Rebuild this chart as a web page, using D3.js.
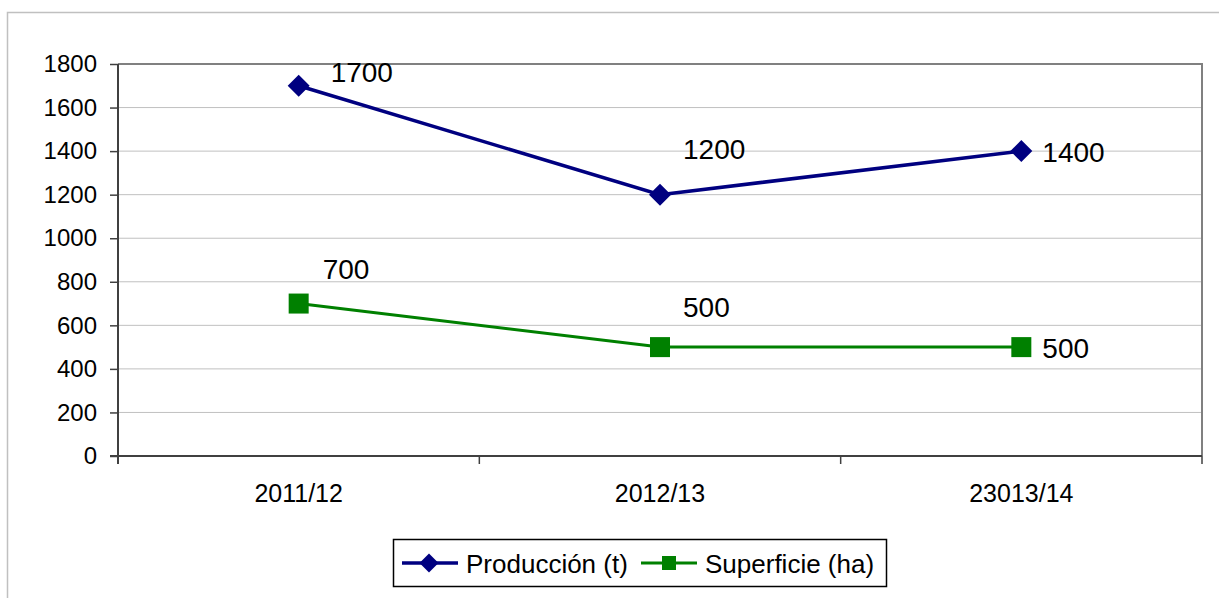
<!DOCTYPE html>
<html>
<head>
<meta charset="utf-8">
<script src="https://cdn.jsdelivr.net/npm/d3@7"></script>
<style>
  body { margin: 0; background: #fff; }
  svg { display: block; font-family: "Liberation Sans", Arial, sans-serif; }
</style>
</head>
<body>
<div class="graph"></div>
<script>
// data
var campaigns = ["2011/12", "2012/13", "23013/14"];
var produccion = [1700, 1200, 1400];
var superficie = [700, 500, 500];
var yTicks = [0, 200, 400, 600, 800, 1000, 1200, 1400, 1600, 1800];
var seriesNames = ["Producción (t)", "Superficie (ha)"];

// where excel put each data label, relative to its point (dx to text start, dy to baseline)
var prodLabelOffsets = [[32, -4], [23, -36], [21, 11]];
var supLabelOffsets = [[24, -25], [23, -30], [21, 11]];

var width = 1219, height = 598;
var plot = {left: 118, right: 1202, top: 64, bottom: 456};

var svg = d3.select("div.graph").append("svg")
    .attr("width", width)
    .attr("height", height);

// outer chart frame (runs off the right and bottom edge)
svg.append("rect")
    .attr("x", 7.5).attr("y", 12.5)
    .attr("width", 1240).attr("height", 620)
    .attr("fill", "#fff")
    .attr("stroke", "#c0c0c0")
    .attr("stroke-width", 1.5);

var x = d3.scaleBand().domain(campaigns).range([plot.left, plot.right]);
var y = d3.scaleLinear().domain([0, 1800]).range([plot.bottom, plot.top]);
var cx = function(d) { return x(d) + x.bandwidth() / 2; };

// gridlines
svg.append("g")
  .selectAll("line")
  .data(yTicks.filter(function(t) { return t > 0 && t < 1800; }))
  .enter().append("line")
    .attr("x1", plot.left).attr("x2", plot.right)
    .attr("y1", function(d) { return y(d); })
    .attr("y2", function(d) { return y(d); })
    .attr("stroke", "#c0c0c0")
    .attr("stroke-width", 1);

// plot border top + right
svg.append("path")
    .attr("d", "M" + plot.left + "," + y(1800) + "H" + plot.right + "V" + plot.bottom)
    .attr("fill", "none")
    .attr("stroke", "#808080")
    .attr("stroke-width", 2);

// y axis
var yAxis = svg.append("g")
    .attr("transform", "translate(" + plot.left + ",0)")
    .call(d3.axisLeft(y).tickValues(yTicks).tickFormat(d3.format("d")).tickSize(8).tickPadding(13));
yAxis.select(".domain").attr("stroke", "#404040").attr("stroke-width", 2)
    .attr("d", "M0," + (plot.bottom + 8) + "V" + plot.top);
yAxis.selectAll(".tick line").attr("stroke", "#404040").attr("stroke-width", 1.5);
yAxis.selectAll(".tick text")
    .attr("font-size", 24)
    .attr("font-family", "Liberation Sans, Arial, sans-serif")
    .attr("fill", "#000");

// x axis, ticks sit between the categories
var xAxis = svg.append("g")
    .attr("transform", "translate(0," + plot.bottom + ")");
xAxis.append("line")
    .attr("x1", plot.left - 8).attr("x2", plot.right)
    .attr("stroke", "#404040").attr("stroke-width", 2);
var bounds = campaigns.map(function(c) { return x(c); }).concat([x.range()[1]]);
xAxis.selectAll(".xtick")
  .data(bounds)
  .enter().append("line")
    .attr("class", "xtick")
    .attr("x1", function(d) { return d; }).attr("x2", function(d) { return d; })
    .attr("y1", 0).attr("y2", 8)
    .attr("stroke", "#404040").attr("stroke-width", 1.5);
xAxis.selectAll(".xlabel")
  .data(campaigns)
  .enter().append("text")
    .attr("class", "xlabel")
    .attr("x", cx)
    .attr("y", 46)
    .attr("text-anchor", "middle")
    .attr("font-size", 25)
    .text(function(d) { return d; });

// series
var line = d3.line()
    .x(function(d, i) { return cx(campaigns[i]); })
    .y(function(d) { return y(d); });

svg.append("path")
    .datum(superficie)
    .attr("d", line)
    .attr("fill", "none")
    .attr("stroke", "#008000")
    .attr("stroke-width", 3);

svg.append("path")
    .datum(produccion)
    .attr("d", line)
    .attr("fill", "none")
    .attr("stroke", "#000080")
    .attr("stroke-width", 3.5);

svg.selectAll(".sq")
  .data(superficie)
  .enter().append("rect")
    .attr("class", "sq")
    .attr("x", function(d, i) { return cx(campaigns[i]) - 10; })
    .attr("y", function(d) { return y(d) - 10; })
    .attr("width", 20).attr("height", 20)
    .attr("fill", "#008000");

svg.selectAll(".dm")
  .data(produccion)
  .enter().append("path")
    .attr("class", "dm")
    .attr("d", "M0,-11L11,0L0,11L-11,0Z")
    .attr("transform", function(d, i) { return "translate(" + cx(campaigns[i]) + "," + y(d) + ")"; })
    .attr("fill", "#000080");

// data labels
svg.selectAll(".plabel")
  .data(produccion)
  .enter().append("text")
    .attr("class", "plabel")
    .attr("x", function(d, i) { return cx(campaigns[i]) + prodLabelOffsets[i][0]; })
    .attr("y", function(d, i) { return y(d) + prodLabelOffsets[i][1]; })
    .attr("font-size", 28)
    .text(function(d) { return d; });

svg.selectAll(".slabel")
  .data(superficie)
  .enter().append("text")
    .attr("class", "slabel")
    .attr("x", function(d, i) { return cx(campaigns[i]) + supLabelOffsets[i][0]; })
    .attr("y", function(d, i) { return y(d) + supLabelOffsets[i][1]; })
    .attr("font-size", 28)
    .text(function(d) { return d; });

// legend
var legend = svg.append("g");
legend.append("rect")
    .attr("x", 393.5).attr("y", 539.5)
    .attr("width", 493).attr("height", 47)
    .attr("fill", "#fff")
    .attr("stroke", "#000")
    .attr("stroke-width", 1.5);

legend.append("line")
    .attr("x1", 402).attr("x2", 458).attr("y1", 563).attr("y2", 563)
    .attr("stroke", "#000080").attr("stroke-width", 3.5);
legend.append("path")
    .attr("d", "M0,-9.5L9.5,0L0,9.5L-9.5,0Z")
    .attr("transform", "translate(429,563)")
    .attr("fill", "#000080");
legend.append("text")
    .attr("x", 466).attr("y", 573)
    .attr("font-size", 26)
    .text(seriesNames[0]);

legend.append("line")
    .attr("x1", 641).attr("x2", 697).attr("y1", 563).attr("y2", 563)
    .attr("stroke", "#008000").attr("stroke-width", 3);
legend.append("rect")
    .attr("x", 662).attr("y", 556)
    .attr("width", 14).attr("height", 14)
    .attr("fill", "#008000");
legend.append("text")
    .attr("x", 705).attr("y", 573)
    .attr("font-size", 26)
    .text(seriesNames[1]);
</script>
</body>
</html>
